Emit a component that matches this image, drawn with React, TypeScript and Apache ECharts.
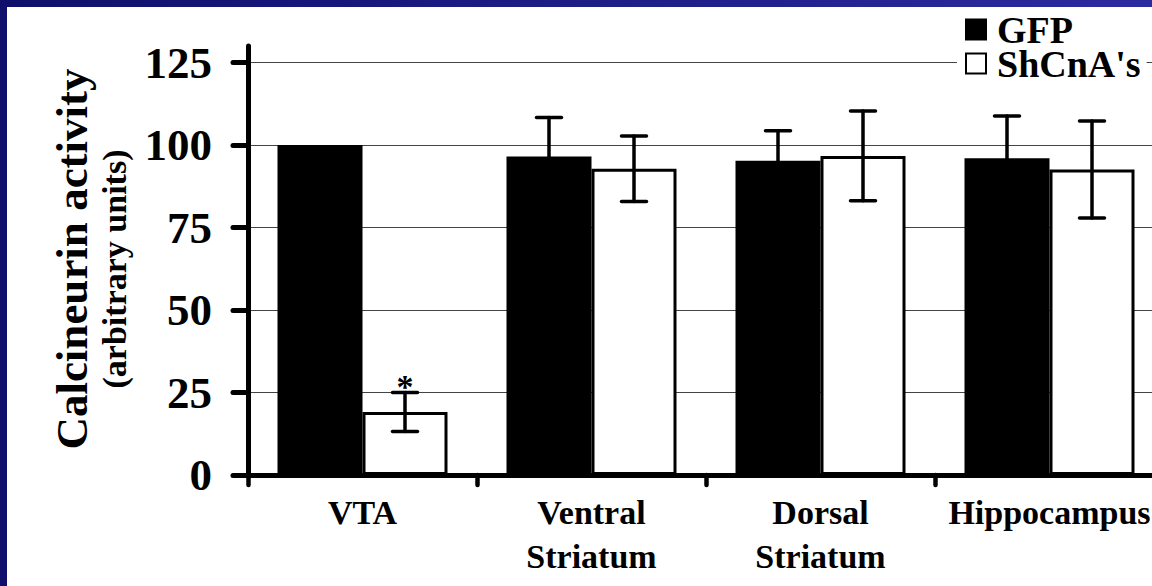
import React, { useEffect, useRef } from "react";
import * as echarts from "echarts";

const categories = ["VTA", "Ventral\nStriatum", "Dorsal\nStriatum", "Hippocampus"];
const seriesNames = ["GFP", "ShCnA's"];
const gfpMean = [100, 96.5, 95.2, 96.0];
const gfpErr = [0, 11.8, 9.1, 12.8];
const shMean = [19.1, 92.8, 96.7, 92.6];
const shErr = [5.9, 9.9, 13.6, 14.7];
const shSig = ["*", "", "", ""];
const yTicks = [0, 25, 50, 75, 100, 125];
const yTitle = "Calcineurin activity";
const ySubTitle = "(arbitrary units)";

const FONT = '"Liberation Serif", "Times New Roman", serif';
const BAR_W = 85;

function errorSeries(name: string, means: number[], errs: number[], sign: number, sig: string[]) {
  return {
    name: name + " error",
    type: "custom",
    coordinateSystem: "cartesian2d",
    z: 10,
    clip: false,
    encode: { x: 0, y: 1 },
    data: means.map((m, i) => [i, m, errs[i]]),
    renderItem: (params: any, api: any) => {
      const ci = api.value(0);
      const mean = api.value(1);
      const err = api.value(2);
      const c = api.coord([ci, mean]);
      const x = c[0] + (sign * BAR_W) / 2;
      const children: any[] = [];
      const style = { stroke: "#000", lineWidth: 3.5, lineCap: "round" };
      let topY = c[1];
      if (err > 0) {
        topY = api.coord([ci, mean + err])[1];
        const botY = api.coord([ci, mean - err])[1];
        const cw = 12.5;
        children.push(
          { type: "line", shape: { x1: x, y1: topY, x2: x, y2: botY }, style },
          { type: "line", shape: { x1: x - cw, y1: topY, x2: x + cw, y2: topY }, style },
          { type: "line", shape: { x1: x - cw, y1: botY, x2: x + cw, y2: botY }, style }
        );
      }
      const s = sig[params.dataIndex];
      if (s) {
        children.push({
          type: "text",
          x: x,
          y: topY - 6,
          style: {
            text: s,
            fontSize: 34,
            fontWeight: "bold",
            fontFamily: FONT,
            fill: "#000",
            align: "center",
            verticalAlign: "middle",
            textAlign: "center",
            textVerticalAlign: "middle",
          },
        });
      }
      return { type: "group", children };
    },
  };
}

export default function App() {
  const ref = useRef<HTMLDivElement>(null);
  useEffect(() => {
    if (!ref.current) return;
    const chart = echarts.init(ref.current, undefined, { renderer: "svg" });
    chart.setOption({
      animation: false,
      backgroundColor: "#fff",
      grid: { left: 248, right: -12, top: 46, bottom: 111, outerBoundsMode: "none", containLabel: false },
      legend: {
        orient: "vertical",
        left: 957,
        top: 7,
        itemWidth: 20,
        itemHeight: 20,
        itemGap: -5,
        icon: "rect",
        backgroundColor: "#fff",
        padding: [3, 6, 5, 8],
        itemStyle: { borderWidth: 2 },
        textStyle: {
          fontSize: 38,
          fontWeight: "bold",
          fontFamily: FONT,
          color: "#000",
          lineHeight: 39,
          padding: [0, 0, 0, 6],
        },
        data: seriesNames,
      },
      xAxis: {
        type: "category",
        data: categories,
        axisLine: { lineStyle: { color: "#000", width: 5 } },
        axisTick: { show: true, length: 10, lineStyle: { color: "#000", width: 4.5, cap: "round" } },
        axisLabel: {
          interval: 0,
          margin: 15,
          fontSize: 34,
          fontWeight: "bold",
          fontFamily: FONT,
          color: "#000",
          lineHeight: 44,
        },
        splitLine: { show: false },
      },
      yAxis: {
        type: "value",
        min: 0,
        max: 130,
        interval: 25,
        axisLine: { show: true, lineStyle: { color: "#000", width: 5, cap: "round" } },
        axisTick: { show: true, length: 15, customValues: yTicks, lineStyle: { color: "#000", width: 5, cap: "round" } },
        axisLabel: {
          customValues: yTicks,
          margin: 36,
          fontSize: 45,
          fontWeight: "bold",
          fontFamily: FONT,
          color: "#000",
        },
        splitLine: { show: true, lineStyle: { color: "#444", width: 1 } },
      },
      graphic: [
        {
          type: "rect",
          left: 0,
          top: 0,
          shape: { width: 1152, height: 7 },
          style: {
            fill: new echarts.graphic.LinearGradient(0, 0, 1, 0, [
              { offset: 0, color: "#0f0f6b" },
              { offset: 1, color: "#2b2ba0" },
            ]),
          },
          z: 100,
        },
        { type: "rect", left: 0, top: 0, shape: { width: 7, height: 586 }, style: { fill: "#10106c" }, z: 100 },
        {
          type: "text",
          x: 72,
          y: 259,
          rotation: Math.PI / 2,
          style: {
            text: yTitle,
            fontSize: 45,
            fontWeight: "bold",
            fontFamily: FONT,
            fill: "#000",
            textAlign: "center",
            textVerticalAlign: "middle",
          },
        },
        {
          type: "text",
          x: 114,
          y: 269,
          rotation: Math.PI / 2,
          style: {
            text: ySubTitle,
            fontSize: 34,
            fontWeight: "bold",
            fontFamily: FONT,
            fill: "#000",
            textAlign: "center",
            textVerticalAlign: "middle",
          },
        },
      ],
      series: [
        {
          name: seriesNames[0],
          type: "bar",
          data: gfpMean,
          barWidth: BAR_W,
          barGap: "0%",
          itemStyle: { color: "#000", borderColor: "#000", borderWidth: 3 },
        },
        {
          name: seriesNames[1],
          type: "bar",
          data: shMean,
          barWidth: BAR_W,
          barGap: "0%",
          itemStyle: { color: "#fff", borderColor: "#000", borderWidth: 3 },
        },
        errorSeries(seriesNames[0], gfpMean, gfpErr, -1, ["", "", "", ""]),
        errorSeries(seriesNames[1], shMean, shErr, 1, shSig),
      ],
    });
    return () => chart.dispose();
  }, []);
  return (
    <div
      ref={ref}
      style={{ position: "fixed", left: 0, top: 0, width: 1152, height: 586, background: "#fff" }}
    />
  );
}
